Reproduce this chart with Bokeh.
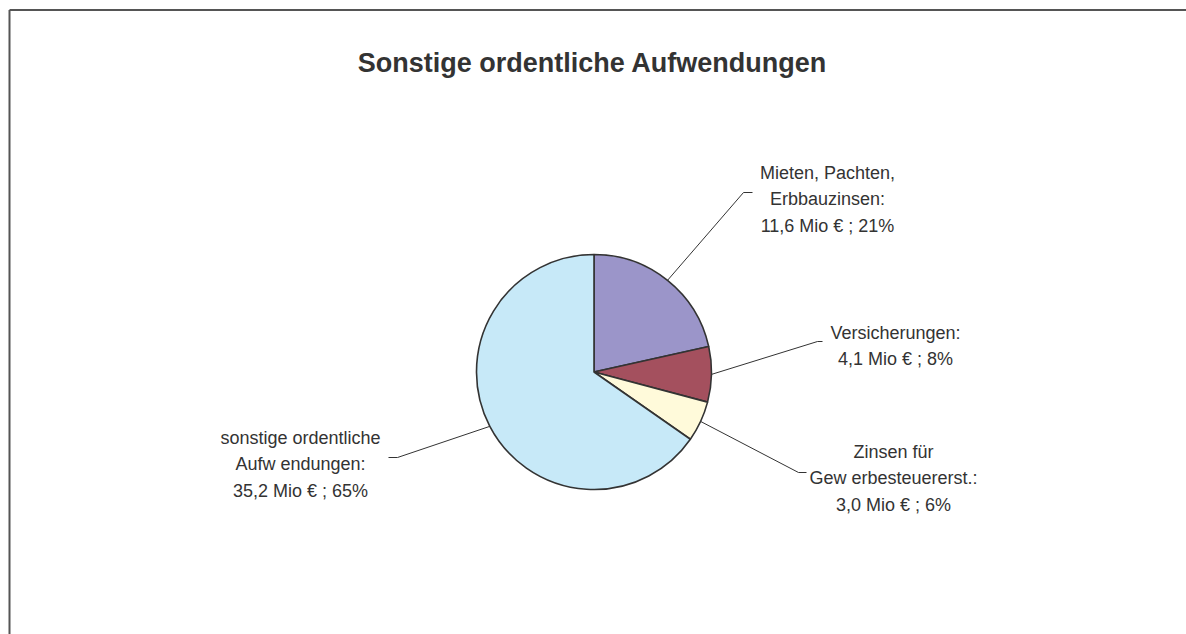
import math
from bokeh.plotting import figure
from bokeh.models import Range1d, ColumnDataSource
from bokeh.core.properties import value
from bokeh.embed import file_html
from bokeh.resources import INLINE

# ---------------- data ----------------
title_text = "Sonstige ordentliche Aufwendungen"
categories = ["Mieten, Pachten, Erbbauzinsen", "Versicherungen",
              "Zinsen für Gewerbesteuererst.", "sonstige ordentliche Aufwendungen"]
values_mio = [11.6, 4.1, 3.0, 35.2]
value_texts = ["11,6", "4,1", "3,0", "35,2"]
percent_texts = ["21%", "8%", "6%", "65%"]
name_lines = [["Mieten, Pachten,", "Erbbauzinsen:"],
              ["Versicherungen:"],
              ["Zinsen für", "Gew erbesteuererst.:"],
              ["sonstige ordentliche", "Aufw endungen:"]]
colors = ["#9B95C9", "#A4505E", "#FFFADA", "#C7E9F8"]

# ---------------- layout (pixel positions of the reference image) ----------------
W, H = 1186, 634
def X(ix):
    return ix
def Y(iy):
    return H - iy

CX, CY, R = X(593.5), Y(371.5), 117.5
# label: centre x, first baseline y
label_pos = [(827, 172), (895, 332), (893, 451), (300, 437)]
line_step = 26.5
# leader: elbow point, end point
leader_pts = [((743, 192), (752, 192)),
              ((817, 341), (822, 341)),
              ((798, 472), (806, 472)),
              ((397, 457), (388, 457))]

FONT = "Liberation Sans"
TEXT_COLOR = "#333333"

p = figure(width=W, height=H, x_range=Range1d(0, W), y_range=Range1d(0, H),
           output_backend="svg", toolbar_location=None, min_border=0,
           x_axis_location=None, y_axis_location=None)
p.grid.visible = False
p.outline_line_color = None
p.background_fill_color = "white"
p.border_fill_color = "white"

# chart frame (left and top edges visible in the reference; rest is cut off)
fx, fy = 9, 9.5
p.segment(x0=[X(fx), X(fx)], y0=[Y(fy), Y(fy)],
          x1=[X(fx), X(W + 20)], y1=[Y(H + 20), Y(fy)],
          line_color="#555555", line_width=2)

# pie wedges
total = sum(values_mio)
starts, ends, mids = [], [], []
cum = 0.0
for v in values_mio:
    a0 = math.pi / 2 - 2 * math.pi * cum / total
    cum += v
    a1 = math.pi / 2 - 2 * math.pi * cum / total
    starts.append(a0)
    ends.append(a1)
    mids.append((a0 + a1) / 2)

src = ColumnDataSource(dict(x=[CX] * len(values_mio), y=[CY] * len(values_mio),
                            start=starts, end=ends, color=colors, cat=categories))
p.wedge(x="x", y="y", radius=R, start_angle="start", end_angle="end",
        direction="clock", fill_color="color", line_color="#333333",
        line_width=1.6, source=src)

# leader lines
xs, ys = [], []
for m, (elbow, end) in zip(mids, leader_pts):
    sx = CX + R * math.cos(m)
    sy = CY + R * math.sin(m)
    xs.append([sx, X(elbow[0]), X(end[0])])
    ys.append([sy, Y(elbow[1]), Y(end[1])])
p.multi_line(xs=xs, ys=ys, line_color="#333333", line_width=1)

# labels
tx, ty, tt = [], [], []
for names, vt, pt, (lx, ly) in zip(name_lines, value_texts, percent_texts, label_pos):
    lines = names + [f"{vt} Mio € ; {pt}"]
    for i, ln in enumerate(lines):
        tx.append(X(lx))
        ty.append(Y(ly + i * line_step))
        tt.append(ln)
p.text(x=tx, y=ty, text=tt, text_align="center", text_baseline="alphabetic",
       text_font=value(FONT), text_font_size="18px", text_color=TEXT_COLOR)

# title
p.text(x=[X(592)], y=[Y(62)], text=[title_text], text_align="center",
       text_baseline="alphabetic", text_font=value(FONT), text_font_size="27px",
       text_font_style="bold", text_color=TEXT_COLOR)

open("out.html", "w").write(file_html(p, INLINE))
